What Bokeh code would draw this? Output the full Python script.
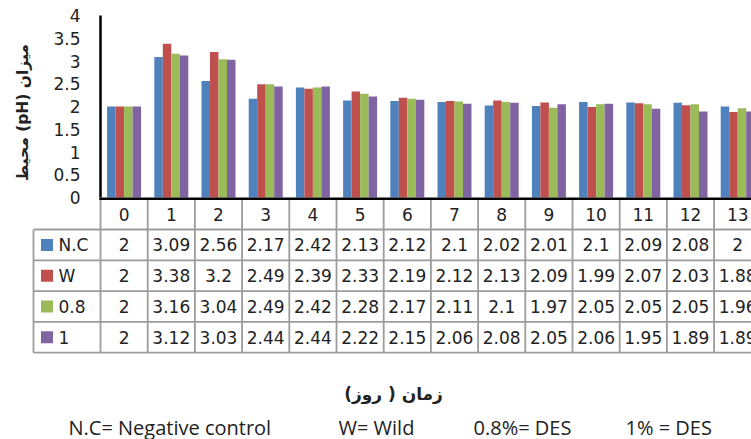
from bokeh.plotting import figure
from bokeh.models import Range1d, FixedTicker, Label
from bokeh.core.properties import value
from bokeh.embed import file_html
from bokeh.resources import INLINE
import numpy as np

# ---------------- data ----------------
days = list(range(14))
series_names = ["N.C", "W", "0.8", "1"]
nc = [2, 3.09, 2.56, 2.17, 2.42, 2.13, 2.12, 2.1, 2.02, 2.01, 2.1, 2.09, 2.08, 2]
wild = [2, 3.38, 3.2, 2.49, 2.39, 2.33, 2.19, 2.12, 2.13, 2.09, 1.99, 2.07, 2.03, 1.88]
des08 = [2, 3.16, 3.04, 2.49, 2.42, 2.28, 2.17, 2.11, 2.1, 1.97, 2.05, 2.05, 2.05, 1.96]
des1 = [2, 3.12, 3.03, 2.44, 2.44, 2.22, 2.15, 2.06, 2.08, 2.05, 2.06, 1.95, 1.89, 1.89]
colors = ["#4F81BD", "#C0504D", "#9BBB59", "#8064A2"]
y_ticks = [0, 0.5, 1, 1.5, 2, 2.5, 3, 3.5, 4]
y_tick_labels = ["0", "0.5", "1", "1.5", "2", "2.5", "3", "3.5", "4"]
y_title = "میزان (pH) محیط"
x_title = "زمان ( روز)"
notes = ["N.C= Negative control", "W= Wild", "0.8%= DES", "1% = DES"]

series = [nc, wild, des08, des1]

RLE, PDF = "\u202B", "\u202C"

# ---------------- layout constants (canvas px) ----------------
W, H = 751, 439
PPU = 47.2           # px per day column
AXIS_X = 100         # x of y axis
LEG_X = 33           # x of legend column left edge
Y0 = 197             # y of value 0
YPU = 45.5           # px per pH unit
ROW = 30.8           # table row height px
ROW0 = 198.2         # y of table top line
FONT = "DejaVu Sans"
TXT = "#222222"
GRID = "#9c9c9c"

def px_x(px):
    return -0.5 + (px - AXIS_X) / PPU

def px_row(py):
    return (py - ROW0) / ROW

x_start = px_x(0)
x_end = px_x(W)

p = figure(width=W, height=H, output_backend="svg", toolbar_location=None,
           x_range=Range1d(x_start, x_end),
           y_range=Range1d(-(H - Y0) / YPU, Y0 / YPU),
           x_axis_location=None,
           min_border_left=0, min_border_right=0,
           min_border_top=0, min_border_bottom=0)
p.extra_y_ranges = {"table": Range1d(px_row(H), px_row(0))}
p.outline_line_color = None
p.grid.visible = False
p.background_fill_color = "white"

# ---------------- bars ----------------
bw = 0.18
offsets = [-1.5 * bw, -0.5 * bw, 0.5 * bw, 1.5 * bw]
for vals, col, off in zip(series, colors, offsets):
    p.vbar(x=np.array(days) + off, top=vals, bottom=0, width=bw,
           fill_color=col, line_color=None)

# ---------------- y axis ----------------
ya = p.yaxis[0]
ya.fixed_location = -0.5
ya.bounds = (0, 4)
ya.ticker = FixedTicker(ticks=y_ticks)
ya.major_label_overrides = {t: l for t, l in zip(y_ticks, y_tick_labels)}
ya.major_tick_line_color = None
ya.minor_tick_line_color = None
ya.major_tick_out = 0
ya.major_tick_in = 0
ya.major_label_standoff = 20
ya.major_label_text_font = FONT
ya.major_label_text_font_size = "17px"
ya.major_label_text_color = TXT
ya.axis_line_color = "black"
ya.axis_line_width = 2.5

p.add_layout(Label(x=px_x(22), y=(Y0 - 112) / YPU, text=RLE + y_title + PDF,
                   angle=np.pi / 2, text_font=FONT, text_font_style="bold",
                   text_font_size="15.5px", text_color=TXT,
                   text_align="center", text_baseline="middle"))

# ---------------- table ----------------
n = len(days)
nrows = len(series_names) + 1
leg_left = px_x(LEG_X)
vx = [d - 0.5 for d in days] + [days[-1] + 0.5]
p.segment(x0=vx, y0=[0] * len(vx), x1=vx, y1=[nrows] * len(vx),
          line_color=GRID, line_width=1.8, y_range_name="table")
p.segment(x0=[leg_left], y0=[1], x1=[leg_left], y1=[nrows],
          line_color=GRID, line_width=1.8, y_range_name="table")
hy = list(range(1, nrows + 1))
p.segment(x0=[leg_left] * len(hy), y0=hy, x1=[x_end] * len(hy), y1=hy,
          line_color=GRID, line_width=1.8, y_range_name="table")
p.segment(x0=[-0.5 - 1.2 / PPU], y0=[0], x1=[x_end], y1=[0],
          line_color="black", line_width=2.5, y_range_name="table")

p.text(x=days, y=[0.5] * n, text=[str(d) for d in days],
       text_font=value(FONT), text_font_size="17px", text_color=TXT,
       text_align="center", text_baseline="middle", y_range_name="table")
for i, vals in enumerate(series):
    p.text(x=days, y=[i + 1.5] * n, text=[f"{v:g}" for v in vals],
           text_font=value(FONT), text_font_size="17px", text_color=TXT,
           text_align="center", text_baseline="middle", y_range_name="table")
ry = [i + 1.5 for i in range(len(series_names))]
p.scatter(x=[px_x(46.5)] * len(ry), y=ry, marker="square", size=12,
          fill_color=colors, line_color=None, y_range_name="table")
p.text(x=[px_x(58)] * len(ry), y=ry, text=series_names,
       text_font=value(FONT), text_font_size="17px", text_color=TXT,
       text_align="left", text_baseline="middle", y_range_name="table")

# ---------------- titles / notes ----------------
p.add_layout(Label(x=px_x(393), y=px_row(393), y_range_name="table",
                   text=RLE + x_title + PDF,
                   text_font=FONT, text_font_style="bold", text_font_size="17px",
                   text_color=TXT, text_align="center", text_baseline="middle"))
note_x = [68, 338, 473, 625]
for nx, t in zip(note_x, notes):
    p.add_layout(Label(x=px_x(nx), y=px_row(427), y_range_name="table", text=t,
                       text_font="Open Sans", text_font_size="20px",
                       text_color=TXT, text_align="left",
                       text_baseline="middle"))

open("out.html", "w").write(file_html(p, INLINE))
